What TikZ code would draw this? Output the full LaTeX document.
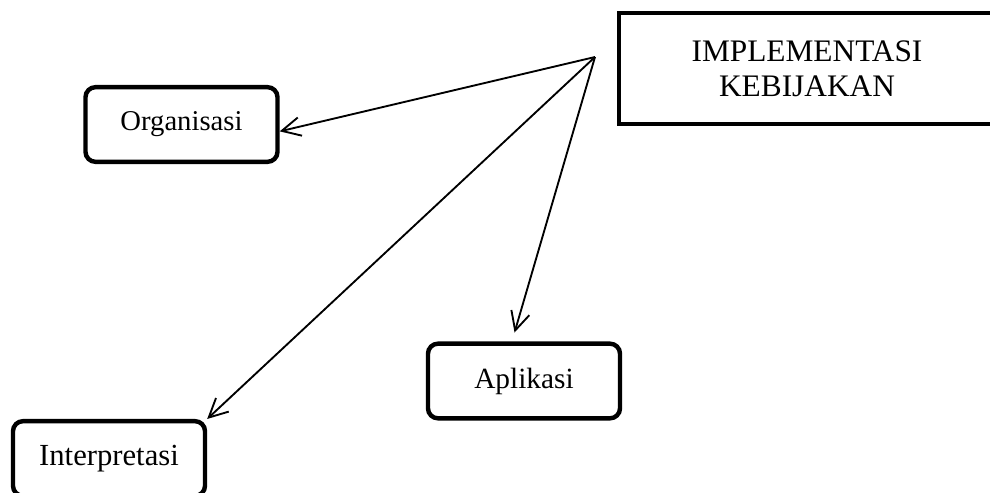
\documentclass[tikz,border=0pt]{standalone}
\usepackage{fontspec}
\setmainfont{Liberation Serif}
\usetikzlibrary{arrows.meta,positioning}
\tikzset{
	kotak/.style={draw, line width=3.3pt, rounded corners=7.5pt, inner sep=0pt,
		minimum width=144pt, minimum height=56pt, font=\fontsize{21.5}{24}\selectfont},
	kotakutama/.style={draw, line width=3.3pt, inner sep=0pt, align=center,
		minimum width=282pt, minimum height=83pt, font=\fontsize{23.5}{26}\selectfont},
	panah/.style={line width=1.4pt, -{Straight Barb[length=14pt,width=14pt,line width=1.4pt]}}
}
\begin{document}
\begin{tikzpicture}[x=0.75pt,y=-0.75pt]
	%cadre
	\useasboundingbox (0,0) rectangle (990,493);
	\clip (0,0) rectangle (990,493);
	%les boites
	\node[kotakutama] (impl) at (807,68.5) {IMPLEMENTASI\\KEBIJAKAN};
	\node[kotak] (org) at (181.5,124.5) {Organisasi};
	\node[kotak, font=\fontsize{22}{24}\selectfont] (apl) at (524,381) {Aplikasi};
	\node[kotak, font=\fontsize{23}{25}\selectfont] (int) at (109,458.5) {Interpretasi};
	%point de depart des fleches
	\coordinate (src) at (595,57);
	%les fleches
	\draw[panah] (src) -- (org.-4);
	\draw[panah, shorten >=7pt] (src) -- (apl.107);
	\draw[panah] (src) -- (int.north east);
\end{tikzpicture}
\end{document}
